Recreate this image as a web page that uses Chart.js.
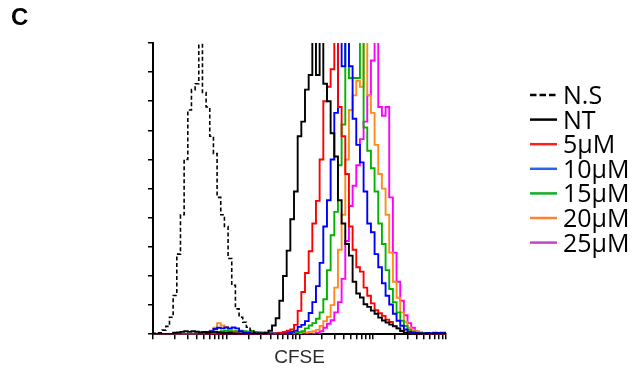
<!DOCTYPE html>
<html>
<head>
<meta charset="utf-8">
<script src="https://cdn.jsdelivr.net/npm/chart.js@4.4.1/dist/chart.umd.min.js"></script>
<style>
  html, body { margin: 0; padding: 0; background: #fff; }
  #wrap { width: 633px; height: 375px; position: relative; }
</style>
</head>
<body>
<div id="wrap"><canvas id="histo"></canvas></div>
<script>
// CFSE channel bins (log spaced, 20 per decade)
const channels = [
  1, 1.122, 1.259, 1.413, 1.585, 1.778, 1.995, 2.239, 2.512, 2.818,
  3.162, 3.548, 3.981, 4.467, 5.012, 5.623, 6.310, 7.079, 7.943, 8.913,
  10, 11.22, 12.59, 14.13, 15.85, 17.78, 19.95, 22.39, 25.12, 28.18,
  31.62, 35.48, 39.81, 44.67, 50.12, 56.23, 63.10, 70.79, 79.43, 89.13,
  100, 112.2, 125.9, 141.3, 158.5, 177.8, 199.5, 223.9, 251.2, 281.8,
  316.2, 354.8, 398.1, 446.7, 501.2, 562.3, 631.0, 707.9, 794.3, 891.3,
  1000, 1122, 1259, 1413, 1585, 1778, 1995, 2239, 2512, 2818,
  3162, 3548, 3981, 4467, 5012, 5623, 6310, 7079, 7943, 8913,
  10000
];

const labels = ["N.S", "NT", "5µM", "10µM", "15µM", "20µM", "25µM"];

// counts, 0-100 of the y axis
const nsCounts = [
  0, 0.3, 0.5, 1.4, 2.7, 5.8, 13.3, 27.5, 41, 60,
  77, 84, 86, 105, 83, 78, 68, 62, 47, 41,
  37, 26, 16.8, 8.7, 5.8, 4.1, 2.4, 1.3, 0.6, 0.2,
  0, 0, 0, 0, 0, 0, 0, 0, 0, 0,
  0, 0, 0, 0, 0, 0, 0, 0, 0, 0,
  0, 0, 0, 0, 0, 0, 0, 0, 0, 0,
  0, 0, 0, 0, 0, 0, 0, 0, 0, 0,
  0, 0, 0, 0, 0, 0, 0, 0, 0, 0,
  0
];
const ntCounts = [
  0, 0, 0, 0, 0, 0, 0.5, 0.6, 0.8, 1.0,
  0.8, 1.0, 0.9, 0.6, 0.8, 0.5, 0.7, 0.8, 0.6, 0.5,
  0.4, 0.5, 0.3, 0.3, 0.2, 0.2, 0.2, 0.2, 0.2, 0.3,
  0.3, 0.5, 1.2, 3, 5.5, 11.5, 20, 28.7, 39.5, 49,
  68, 73, 84, 89, 105, 89, 105, 86, 80, 69,
  61, 46, 38, 31, 27, 18, 14, 12.6, 10.3, 9.4,
  8.1, 7, 5.7, 4.7, 4, 3.3, 2.7, 2, 1.1, 0.5,
  0.2, 0.2, 0.2, 0.2, 0.2, 0.2, 0.2, 0.2, 0.2, 0.2,
  0.2
];
const c5Counts = [
  0, 0, 0, 0, 0, 0, 0, 0, 0, 0,
  0, 0, 0, 0, 0, 0, 0, 0, 0, 0,
  0.3, 0.4, 0.3, 0.2, 0, 0, 0, 0, 0, 0,
  0.1, 0.1, 0.1, 0.2, 0.3, 0.5, 0.8, 1.2, 1.6, 3.2,
  8, 14.5, 21, 28.5, 38, 45.8, 60, 80, 85, 91,
  104, 78, 68, 55, 37, 29, 23, 21.5, 16, 13.2,
  10.6, 8.2, 7.2, 6.3, 5, 4.2, 2.8, 2, 1.2, 0.4,
  0, 0, 0, 0, 0, 0, 0, 0, 0, 0,
  0
];
const c10Counts = [
  0, 0, 0, 0, 0, 0, 0, 0, 0, 0,
  0, 0, 0.3, 0.5, 0.6, 0.8, 1.0, 1.8, 2.2, 2.0,
  2.3, 2.0, 2.3, 2.0, 1.0, 0.5, 0.4, 0.3, 0.3, 0.2,
  0.2, 0.2, 0.3, 0.3, 0.3, 0.4, 0.5, 0.6, 0.8, 1.2,
  2.5, 3.2, 4.5, 7.3, 11, 16.5, 24.5, 37, 46, 60,
  76, 104, 92, 104, 92, 74, 65, 59, 49, 38,
  35, 27.5, 23, 17.5, 13.2, 10.2, 7, 4.6, 2.9, 1.6,
  0.8, 0.5, 0.4, 0.3, 0.3, 0.4, 0.3, 0.5, 0.4, 0.5,
  0.5
];
const c15Counts = [
  0, 0, 0, 0, 0, 0, 0, 0, 0, 0,
  0, 0, 0, 0, 0, 0.3, 0.6, 0.9, 0.8, 1.0,
  1.2, 1.0, 0.9, 1.0, 1.2, 1.0, 0.9, 1.1, 0.8, 0.7,
  0.6, 0.4, 0.3, 0.3, 0.2, 0.2, 0.3, 0.3, 0.4, 0.4,
  0.7, 1.0, 2, 3, 3.8, 5.3, 7.5, 12, 22, 34,
  42, 58, 72, 104, 88, 88, 88, 104, 71, 63,
  57, 49, 38, 31, 22, 15.5, 11, 7.5, 4.6, 2.8,
  1.5, 0.9, 0.5, 0.4, 0.3, 0.3, 0.2, 0.2, 0.2, 0.2,
  0.2
];
const c20Counts = [
  0, 0, 0, 0, 0, 0, 0, 0, 0, 0,
  0, 0, 0.4, 0.5, 0.4, 0.6, 1.2, 2.2, 3.8, 3.0,
  2.5, 1.6, 1.2, 1.0, 0.8, 0.6, 0.5, 0.4, 0.3, 0.3,
  0.2, 0.2, 0.2, 0.2, 0.2, 0.2, 0.2, 0.3, 0.3, 0.3,
  0.4, 0.5, 0.6, 0.8, 1, 1.5, 2.8, 4.5, 6, 10,
  16, 29, 41, 60, 77, 82, 87, 85, 104, 82,
  76, 65, 55, 50, 41, 28, 18, 12.5, 7.5, 4.3,
  2.2, 1.3, 1, 0.7, 0.4, 0.3, 0.3, 0.2, 0.2, 0.2,
  0.2
];
const c25Counts = [
  0, 0, 0, 0, 0, 0, 0, 0, 0, 0,
  0, 0, 0, 0, 0, 0, 0, 0, 0, 0,
  0, 0, 0, 0, 0, 0, 0, 0, 0, 0,
  0, 0, 0, 0, 0, 0, 0, 0, 0, 0,
  0, 0, 0, 0, 0.2, 0.4, 1.0, 2.2, 3.6, 4.8,
  7.5, 11, 19, 32, 44, 51, 58, 67, 73, 82,
  94, 104, 78, 75, 78, 47, 28, 18, 11.5, 6.5,
  3.8, 2.2, 1, 0.5, 0.2, 0.2, 0, 0, 0, 0,
  0
];

const allCounts = [nsCounts, ntCounts, c5Counts, c10Counts, c15Counts, c20Counts, c25Counts];
const lineColors = ["#000000", "#000000", "#ff0000", "#0000ff", "#00b400", "#ff8c1a", "#ff00ff"];
const legendColors = ["#000000", "#000000", "#ff1e1e", "#2a62f0", "#10b020", "#ff8030", "#cc3fcc"];

const datasets = allCounts.map((counts, i) => ({
  label: labels[i],
  data: channels.map((x, j) => ({ x: x, y: counts[j] })),
  borderColor: lineColors[i],
  borderWidth: i === 0 ? 1.6 : 1.9,
  borderDash: i === 0 ? [4, 2.5] : [],
  stepped: 'middle',
  pointRadius: 0,
  fill: false
}));

// legend on the right + panel letter
const extras = {
  id: 'extras',
  afterDraw(chart) {
    const ctx = chart.ctx;
    ctx.save();
    ctx.fillStyle = '#000';
    ctx.font = "bold 24px 'Liberation Sans Narrow', 'Liberation Sans', sans-serif";
    ctx.textBaseline = 'alphabetic';
    ctx.fillText('C', 11, 25);

    ctx.font = "25px 'Open Sans', sans-serif";
    labels.forEach((lab, i) => {
      const y = 95 + i * 24.6;
      ctx.beginPath();
      ctx.strokeStyle = legendColors[i];
      ctx.lineWidth = 2.5;
      ctx.setLineDash(i === 0 ? [6.5, 3] : []);
      ctx.moveTo(530, y);
      ctx.lineTo(557, y);
      ctx.stroke();
      ctx.setLineDash([]);
      ctx.fillStyle = '#000';
      ctx.fillText(lab, 563, y + 9);
    });
    ctx.restore();
  }
};

new Chart(document.getElementById('histo'), {
  type: 'line',
  data: { datasets: datasets },
  plugins: [extras],
  options: {
    responsive: true,
    maintainAspectRatio: false,
    devicePixelRatio: 1,
    animation: false,
    layout: { padding: { left: 148, right: 187, top: 43, bottom: 6 } },
    plugins: { legend: { display: false }, tooltip: { enabled: false } },
    scales: {
      x: {
        type: 'logarithmic',
        min: 1,
        max: 10000,
        z: 1,
        afterBuildTicks: (scale) => {
          scale.ticks = scale.ticks.filter(t => {
            const m = t.value / Math.pow(10, Math.floor(Math.log10(t.value) + 1e-9));
            return Math.abs(m - Math.round(m)) < 1e-6;
          });
        },
        ticks: { display: false, autoSkip: false },
        grid: { drawOnChartArea: false, drawTicks: true, tickLength: 5, color: '#000', lineWidth: 1.5 },
        border: { display: true, color: '#000', width: 2 },
        title: {
          display: true,
          text: 'CFSE',
          color: '#2a2a2a',
          font: { family: "'Liberation Sans', Arial, sans-serif", size: 19 },
          padding: { top: 7, bottom: 0 }
        }
      },
      y: {
        min: 0,
        max: 100,
        z: 1,
        ticks: { display: false, stepSize: 10 },
        grid: { drawOnChartArea: false, drawTicks: true, tickLength: 5, color: '#000', lineWidth: 1.5 },
        border: { display: true, color: '#000', width: 2 }
      }
    }
  }
});
</script>
</body>
</html>
